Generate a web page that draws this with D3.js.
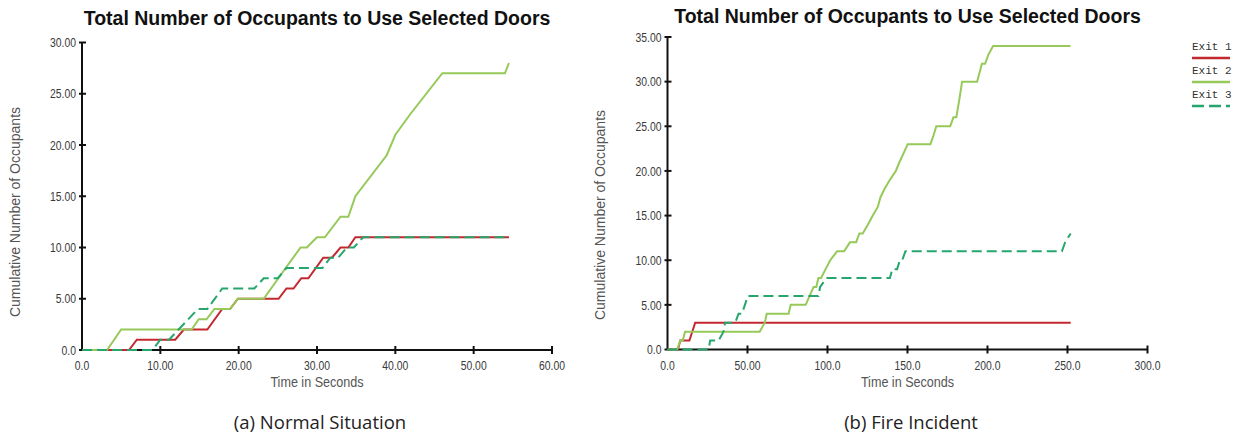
<!DOCTYPE html>
<html>
<head>
<meta charset="utf-8">
<script src="https://cdn.jsdelivr.net/npm/d3@7"></script>
<style>
  html, body { margin: 0; padding: 0; background: #ffffff; }
  svg { display: block; }
  .tick-label { font-family: "Liberation Sans", Arial, sans-serif; font-size: 13px; fill: #3a3a3a; }
  .ax-title { font-family: "Liberation Sans", Arial, sans-serif; font-size: 14px; fill: #555; }
  .title { font-family: "Liberation Sans", Arial, sans-serif; font-weight: bold; font-size: 19.5px; fill: #111; }
  .caption { font-family: "Open Sans", "Noto Sans", sans-serif; font-size: 18.5px; fill: #222; }
  .legend { font-family: "Liberation Mono", "DejaVu Sans Mono", monospace; font-size: 11px; fill: #333; }
</style>
</head>
<body>
<svg id="chart" width="1242" height="436"></svg>
<script>
// ---------- DATA ----------
const chartTitle = "Total Number of Occupants to Use Selected Doors";
const yAxisTitle = "Cumulative Number of Occupants";
const xAxisTitle = "Time in Seconds";
const seriesNames = ["Exit 1", "Exit 2", "Exit 3"];
const seriesColors = ["#c4282f", "#96c95a", "#26a66c"];

// (a) Normal Situation: [time (s), cumulative occupants]
const normalExit1 = [[0,0],[6,0],[7,1],[11.9,1],[13,2],[16,2],[17.9,4],[18.9,4],[19.9,5],[25.1,5],[26.1,6],[27,6],[28,7],[28.9,7],[30.8,9],[31.9,9],[33,10],[34,10],[34.9,11],[54.5,11]];
const normalExit2 = [[0,0],[3.2,0],[5,2],[14,2],[14.9,3],[15.9,3],[16.9,4],[18.9,4],[19.9,5],[23.2,5],[26,8],[27.9,10],[28.7,10],[30,11],[31,11],[33,13],[34,13],[34.9,15],[38.9,19],[40,21],[41.9,23],[46,27],[54,27],[54.5,28]];
const normalExit3 = [[0,0],[9,0],[10,1],[11.1,1],[14.8,4],[16,4],[17.9,6],[22,6],[23.2,7],[25,7],[26.1,8],[30.7,8],[31.7,9],[32.7,9],[33.8,10],[34.7,10],[35.9,11],[54.5,11]];
const normalXTicks = [0,10,20,30,40,50,60];
const normalXLabels = ["0.0","10.00","20.00","30.00","40.00","50.00","60.00"];
const normalYTicks = [0,5,10,15,20,25,30];
const normalYLabels = ["0.0","5.00","10.00","15.00","20.00","25.00","30.00"];
const normalCaption = "(a) Normal Situation";

// (b) Fire Incident
const fireExit1 = [[0,0],[6.5,0],[8,1],[13.7,1],[17.3,3],[252,3]];
const fireExit2 = [[0,0],[6,0],[8,1],[9.5,1],[11,2],[57.6,2],[60.8,3],[62,4],[75.7,4],[77,5],[86.4,5],[88.8,6],[91.3,7],[93,7],[94.3,8],[96,8],[98.8,9],[101.7,10],[106,11],[110.4,11],[114,12],[117.9,12],[119.9,13],[122,13],[125.3,14],[128.3,15],[131.5,16],[133,17],[135.7,18],[139,19],[142.7,20],[145,21],[147.6,22],[150.1,23],[164.3,23],[166.3,24],[168,25],[176.7,25],[178.7,26],[180.5,26],[182.4,28],[184.1,30],[193.5,30],[196.5,32],[198.5,32],[200.5,33],[203.5,34],[251.9,34]];
const fireExit3 = [[0,0],[25.6,0],[26.7,1],[31.9,1],[35,2],[36,3],[42.3,3],[44.4,4],[46.5,4],[50.3,6],[94.3,6],[95.4,7],[99.3,8],[139,8],[140.5,9],[143.5,9],[145.2,10],[146.7,10],[148.7,11],[246.5,11],[248.5,12],[252,13]];
const fireXTicks = [0,50,100,150,200,250,300];
const fireXLabels = ["0.0","50.00","100.0","150.0","200.0","250.0","300.0"];
const fireYTicks = [0,5,10,15,20,25,30,35];
const fireYLabels = ["0.0","5.00","10.00","15.00","20.00","25.00","30.00","35.00"];
const fireCaption = "(b) Fire Incident";

// ---------- DRAW ----------
const svg = d3.select("#chart");
const narrow = 0.8;

function panel(cfg) {
  const g = svg.append("g");
  const x = d3.scaleLinear().domain(cfg.xDomain).range([cfg.left, cfg.right]);
  const y = d3.scaleLinear().domain(cfg.yDomain).range([cfg.bottom, cfg.top]);

  // title
  g.append("text").attr("class", "title")
    .attr("x", (cfg.left + cfg.right) / 2).attr("y", cfg.titleY)
    .attr("text-anchor", "middle").text(chartTitle);

  // axes
  const ax = g.append("g").attr("stroke", "#111").attr("stroke-width", 2);
  ax.append("line").attr("x1", cfg.left).attr("x2", cfg.left).attr("y1", y(cfg.yDomain[1])).attr("y2", cfg.bottom);
  ax.append("line").attr("x1", cfg.left).attr("x2", x(cfg.xDomain[1])).attr("y1", cfg.bottom).attr("y2", cfg.bottom);

  cfg.yTicks.forEach((v, i) => {
    ax.append("line").attr("x1", cfg.left - 3).attr("x2", cfg.left + 4).attr("y1", y(v)).attr("y2", y(v));
    g.append("text").attr("class", "tick-label")
      .attr("transform", `translate(${cfg.left - 6},${y(v)}) scale(${narrow},1)`)
      .attr("dy", "0.36em")
      .attr("text-anchor", "end").text(cfg.yLabels[i]);
  });
  cfg.xTicks.forEach((v, i) => {
    if (i > 0) ax.append("line").attr("x1", x(v)).attr("x2", x(v)).attr("y1", cfg.bottom - 4).attr("y2", cfg.bottom + 4);
    g.append("text").attr("class", "tick-label")
      .attr("transform", `translate(${x(v)},${cfg.bottom + 20}) scale(${narrow},1)`)
      .attr("text-anchor", "middle").text(cfg.xLabels[i]);
  });

  // axis titles
  g.append("text").attr("class", "ax-title")
    .attr("transform", `translate(${(cfg.left + cfg.right) / 2},${cfg.bottom + 37}) scale(0.9,1)`)
    .attr("text-anchor", "middle").text(xAxisTitle);
  g.append("text").attr("class", "ax-title")
    .attr("transform", `translate(${cfg.yTitleX},${cfg.yTitleY}) rotate(-90)`)
    .attr("text-anchor", "middle").attr("dy", "0.35em").text(yAxisTitle);

  // lines
  const line = d3.line().x(d => x(d[0])).y(d => y(d[1]));
  cfg.series.forEach((s, i) => {
    g.append("path").datum(s)
      .attr("fill", "none")
      .attr("stroke", seriesColors[i])
      .attr("stroke-width", 2)
      .attr("stroke-linejoin", "miter")
      .attr("stroke-dasharray", i === 2 ? "10,5" : null)
      .attr("d", line);
  });

  // caption
  g.append("text").attr("class", "caption")
    .attr("x", cfg.captionX).attr("y", 429)
    .attr("text-anchor", "middle").text(cfg.caption);
}

panel({
  xDomain: [0, 60], yDomain: [0, 30],
  left: 82, right: 552, top: 42.5, bottom: 350,
  titleY: 25, yTitleX: 15, yTitleY: 212, captionX: 320,
  xTicks: normalXTicks, xLabels: normalXLabels,
  yTicks: normalYTicks, yLabels: normalYLabels,
  series: [normalExit1, normalExit2, normalExit3],
  caption: normalCaption
});

panel({
  xDomain: [0, 300], yDomain: [0, 35],
  left: 667.5, right: 1147.5, top: 37, bottom: 349.5,
  titleY: 23, yTitleX: 600, yTitleY: 215, captionX: 911,
  xTicks: fireXTicks, xLabels: fireXLabels,
  yTicks: fireYTicks, yLabels: fireYLabels,
  series: [fireExit1, fireExit2, fireExit3],
  caption: fireCaption
});

// legend
const lg = svg.append("g");
seriesNames.forEach((name, i) => {
  const yy = 50 + i * 24;
  lg.append("text").attr("class", "legend").attr("x", 1192).attr("y", yy).text(name);
  lg.append("line").attr("x1", 1192).attr("x2", 1230).attr("y1", yy + 8).attr("y2", yy + 8)
    .attr("stroke", seriesColors[i]).attr("stroke-width", 2.5)
    .attr("stroke-dasharray", i === 2 ? "12,5" : null);
});
</script>
</body>
</html>
